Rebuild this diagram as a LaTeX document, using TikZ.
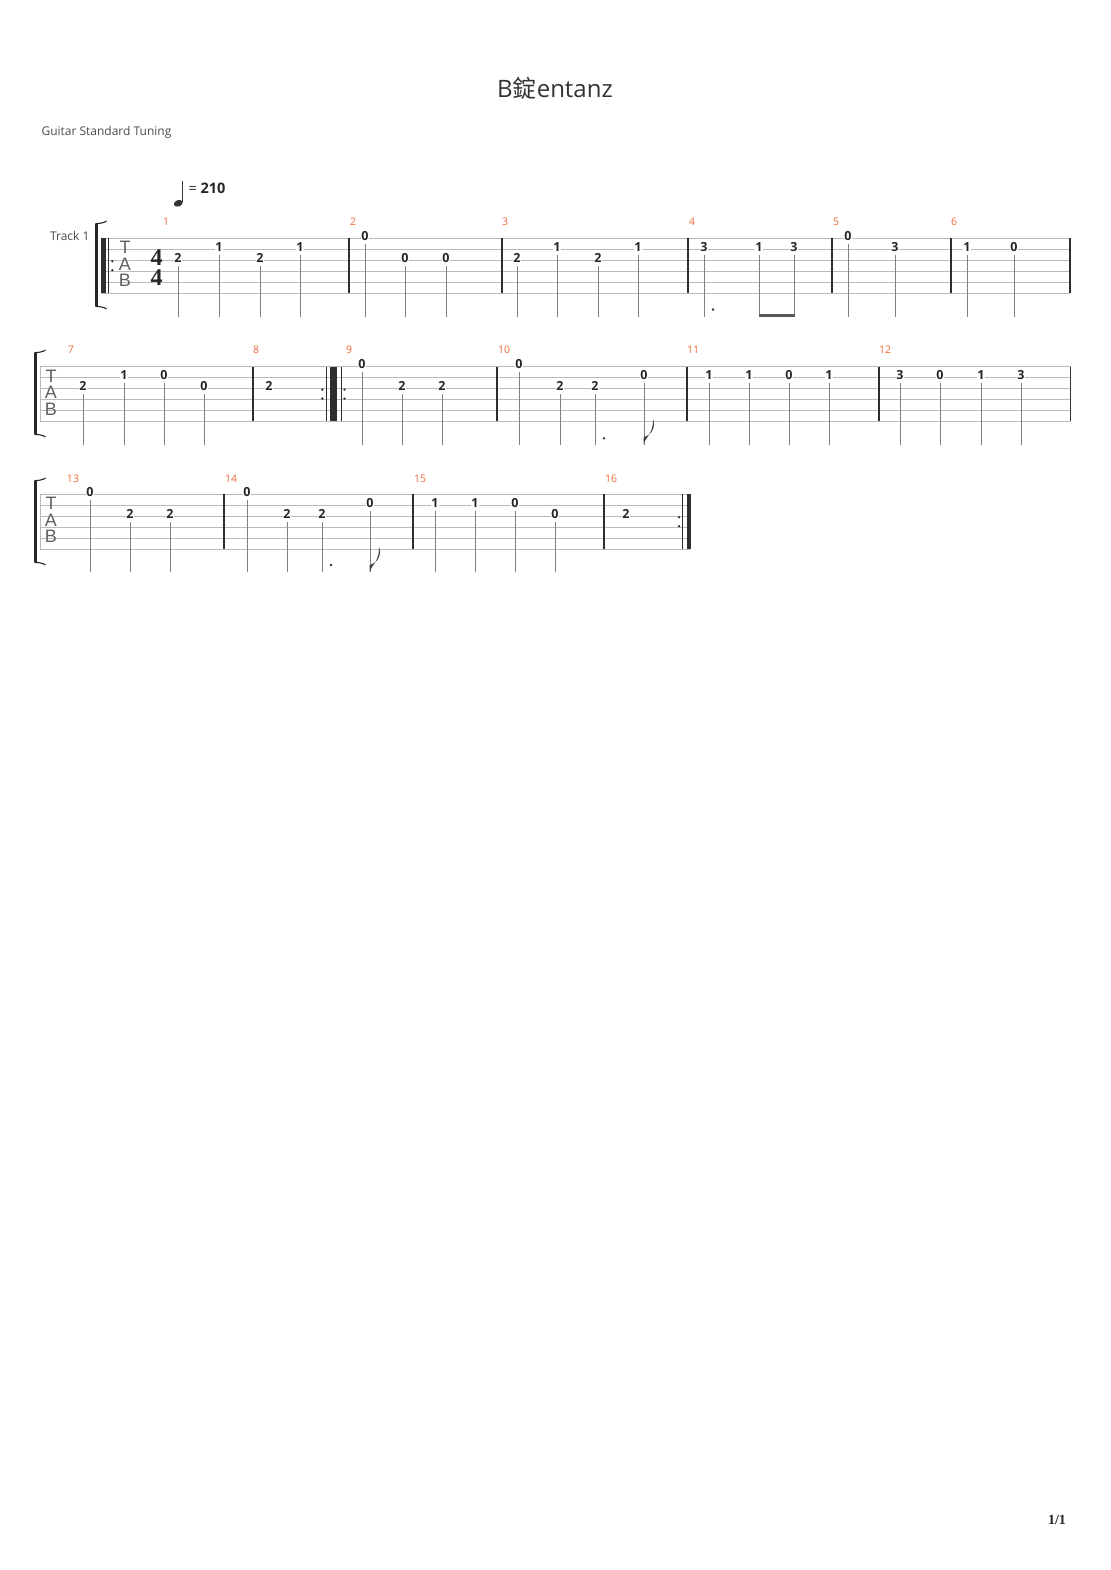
\documentclass[tikz,border=0pt]{standalone}
\usepackage{fontspec}
\setmainfont{Open Sans}
\newfontfamily\cjkfont{Noto Sans CJK SC}
\newfontfamily\claffont{Liberation Sans}
\newfontfamily\pagefont{Liberation Serif}
\newfontfamily\timefont{Liberation Serif}
\definecolor{barorange}{HTML}{F26A3B}
\definecolor{inkgrey}{HTML}{333333}
\newcommand{\tabstaff}[3]{\foreach \s in {0,...,5} \draw[staffline] (#2,{#1+\s*10.95}) -- (#3,{#1+\s*10.95});}
\newcommand{\tabbracket}[3]{\draw[bracket] (#1,#2+1) -- (#1,#3-1);
  \draw[hook] (#1-1.2,#2+0.6) .. controls (#1+3,#2+0.6) and (#1+7,#2) .. (#1+10,#2-2);
  \draw[hook] (#1-1.2,#3-0.6) .. controls (#1+3,#3-0.6) and (#1+7,#3) .. (#1+10,#3+2);}
\newcommand{\tabflag}[2]{\fill[black!75] (#1-0.5,#2) .. controls (#1+2,#2-8) and (#1+10,#2-12) .. (#1+9,#2-26) .. controls (#1+12.5,#2-14) and (#1+5,#2-9) .. (#1-0.5,#2-7) -- cycle;}
\newcommand{\tabdots}[2]{\fill[black!82] (#1,#2-4.5) circle (1.3) (#1,#2+4.5) circle (1.3);}
\begin{document}
\begin{tikzpicture}[x=1pt,y=-1pt,
  staffline/.style={draw=black!27,line width=0.9pt},
  barline/.style={draw=black!82,line width=1.1pt},
  stem/.style={draw=black!50,line width=1pt},
  fret/.style={fill=white,inner sep=0.9pt,text=black!85,font=\bfseries\fontsize{12.5}{12.5}\selectfont},
  barnum/.style={text=barorange,font=\fontsize{10.5}{10.5}\selectfont},
  clef/.style={text=black!62,font=\claffont\fontsize{18}{18}\selectfont},
  timesig/.style={inner sep=0pt,align=center,text=black!85,font=\timefont\bfseries\fontsize{24}{19.4}\selectfont},
  bracket/.style={draw=black!85,line width=2.6pt},
  hook/.style={draw=black!85,line width=1.1pt}]
\fill[white] (0,0) rectangle (1110,1570);
\useasboundingbox (0,0) rectangle (1110,1570);

\node[text=inkgrey,font=\fontsize{24}{24}\selectfont] (title) at (555,88) {B{\cjkfont 錠}entanz};
\node[anchor=west,text=black!70,font=\fontsize{12}{12}\selectfont] (tuning) at (38,132) {Guitar Standard Tuning};
\node[anchor=east,text=black!70,font=\fontsize{12}{12}\selectfont] (track) at (93,236) {Track 1};

\fill[black!80] (178.3,203.3) ellipse [x radius=4.6, y radius=3.2, rotate=20];
\draw[black!80,line width=0.9pt] (182.5,202) -- (182.5,181.5);
\node[anchor=west,text=black!85,font=\fontsize{14.5}{14.5}\selectfont] (tempo) at (185,188) {= \textbf{210}};

\tabstaff{238.3}{101}{1070}
\tabstaff{366.7}{40}{1070.7}
\tabstaff{494.3}{40}{690}

\tabbracket{96.5}{223}{307}
\tabbracket{35.5}{352}{435}
\tabbracket{35.5}{480}{563}

\node[clef] (tabT1) at (125,247.3) {T};
\node[clef] (tabA1) at (125,264.5) {A};
\node[clef] (tabB1) at (125,280.5) {B};
\node[clef] (tabT2) at (51,376) {T};
\node[clef] (tabA2) at (51,392.5) {A};
\node[clef] (tabB2) at (51,409) {B};
\node[clef] (tabT3) at (51,503.6) {T};
\node[clef] (tabA3) at (51,520.1) {A};
\node[clef] (tabB3) at (51,536.6) {B};

\node[timesig] (timesig) at (156.5,267.5) {4\\4};

\fill[black!82] (101,238.3) rectangle (106,293.05);
\draw[barline,line width=0.9pt] (108.7,238.3) -- (108.7,293.05);
\tabdots{112.3}{265.7}
\foreach \x in {349,502,688,832,951,1070} \draw[barline] (\x,238.3) -- (\x,293.05);

\draw[staffline] (40,366.7) -- (40,421.45);
\foreach \x in {253,497,687,879,1070.7} \draw[barline] (\x,366.7) -- (\x,421.45);
\tabdots{322.3}{394.1}
\draw[barline,line width=0.9pt] (326.7,366.7) -- (326.7,421.45);
\fill[black!82] (330,366.7) rectangle (337.3,421.45);
\draw[barline,line width=0.9pt] (341,366.7) -- (341,421.45);
\tabdots{344.5}{394.1}

\draw[staffline] (40,494.3) -- (40,549.05);
\foreach \x in {224,413,604} \draw[barline] (\x,494.3) -- (\x,549.05);
\tabdots{679}{521.7}
\draw[barline,line width=0.9pt] (682.7,494.3) -- (682.7,549.05);
\fill[black!82] (686.5,494.3) rectangle (690.5,549.05);

\foreach \n/\x in {1/166,2/353,3/505,4/692,5/836,6/954} \node[barnum] (bar\n) at (\x,222) {\n};
\foreach \n/\x in {7/71,8/256,9/349,10/504,11/693,12/885} \node[barnum] (bar\n) at (\x,350) {\n};
\foreach \n/\x in {13/73,14/231,15/420,16/611} \node[barnum] (bar\n) at (\x,478.3) {\n};

\foreach \x/\s/\f in {178/3/2,219/2/1,260/3/2,300/2/1,365/1/0,405/3/0,446/3/0,517/3/2,557/2/1,598/3/2,638/2/1,704/2/3,759/2/1,794/2/3,848/1/0,895/2/3,967/2/1,1014/2/0} {
  \node[fret] (a\x) at (\x,{238.3+(\s-1)*10.95-2.2}) {\f};
  \draw[stem] (\x,{238.3+(\s-1)*10.95+5.5}) -- (\x,316.7);
}
\fill[black!82] (713,309.5) circle (1.3);
\fill[black!65] (758.5,314.2) rectangle (794.5,317);

\foreach \x/\s/\f in {83/3/2,124/2/1,164/2/0,204/3/0,362/1/0,402/3/2,442/3/2,519/1/0,560/3/2,595/3/2,644/2/0,709/2/1,749/2/1,789/2/0,829/2/1,900/2/3,940/2/0,981/2/1,1021/2/3} {
  \node[fret] (b\x) at (\x,{366.7+(\s-1)*10.95-2.2}) {\f};
  \draw[stem] (\x,{366.7+(\s-1)*10.95+5.5}) -- (\x,444.5);
}
\node[fret] (b269) at (269,{366.7+2*10.95-2.2}) {2};
\fill[black!82] (604,438.3) circle (1.3);
\tabflag{644}{444.5}

\foreach \x/\s/\f in {90/1/0,130/3/2,170/3/2,247/1/0,287/3/2,322/3/2,370/2/0,435/2/1,475/2/1,515/2/0,555/3/0} {
  \node[fret] (c\x) at (\x,{494.3+(\s-1)*10.95-2.2}) {\f};
  \draw[stem] (\x,{494.3+(\s-1)*10.95+5.5}) -- (\x,572.3);
}
\node[fret] (c626) at (626,{494.3+2*10.95-2.2}) {2};
\fill[black!82] (331,565) circle (1.3);
\tabflag{370}{572.3}

\node[font=\pagefont\bfseries\fontsize{14}{14}\selectfont,text=black!85] (page) at (1057,1520) {1/1};
\end{tikzpicture}
\end{document}
